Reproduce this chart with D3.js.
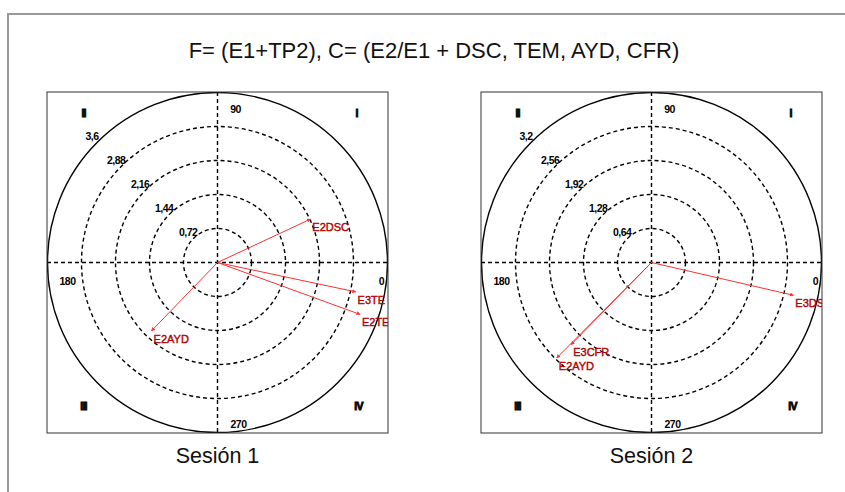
<!DOCTYPE html>
<html>
<head>
<meta charset="utf-8">
<script src="https://cdn.jsdelivr.net/npm/d3@7"></script>
<style>
  body { margin: 0; background: #fff; }
  svg { display: block; }
</style>
</head>
<body>
<svg id="chart"></svg>
<script>
const width = 845;
const height = 492;

const title = "F= (E1+TP2), C= (E2/E1 + DSC, TEM, AYD, CFR)";

// session 1
const s1Labels = ["E2DSC", "E3TE", "E2TE", "E2AYD"];
const s1Values = [2.17, 2.99, 3.21, 2.01];
const s1Angles = [25, 348, 340, 226];
const s1Ticks = [0.72, 1.44, 2.16, 2.88, 3.6];
const s1TickLabels = ["0,72", "1,44", "2,16", "2,88", "3,6"];

// session 2
const s2Labels = ["E3DS", "E3CFR", "E2AYD"];
const s2Values = [2.74, 2.16, 2.53];
const s2Angles = [347, 225.6, 225.2];
const s2Ticks = [0.64, 1.28, 1.92, 2.56, 3.2];
const s2TickLabels = ["0,64", "1,28", "1,92", "2,56", "3,2"];

const angleLabels = ["0", "90", "180", "270"];
const quadrantLabels = ["I", "II", "III", "IV"];

const panels = [
    {name: "Sesión 1", cx: 217.5, labels: s1Labels, values: s1Values, angles: s1Angles, ticks: s1Ticks, tickLabels: s1TickLabels},
    {name: "Sesión 2", cx: 651.5, labels: s2Labels, values: s2Values, angles: s2Angles, ticks: s2Ticks, tickLabels: s2TickLabels}
];

const cy = 262.5;
const half = 170.5;
const R = 170;
const red = "#ff3030";
const smallFont = "Arial, 'Liberation Sans', sans-serif";

const svg = d3.select("#chart")
    .attr("width", width)
    .attr("height", height)
    .style("font-family", "Arial, 'Liberation Sans', Helvetica, sans-serif");

// page frame
svg.append("path")
    .attr("d", "M8,492 V14 H845")
    .attr("fill", "none")
    .attr("stroke", "#9a9a9a")
    .attr("stroke-width", 2);

svg.append("text")
    .attr("x", 434)
    .attr("y", 58)
    .attr("text-anchor", "middle")
    .style("font-size", "22px")
    .attr("fill", "#111")
    .text(title);

const defs = svg.append("defs");
defs.append("marker")
    .attr("id", "head")
    .attr("viewBox", "0 -3 6 6")
    .attr("refX", 5)
    .attr("refY", 0)
    .attr("markerWidth", 4)
    .attr("markerHeight", 4)
    .attr("orient", "auto")
    .append("path")
    .attr("d", "M0,-3L6,0L0,3Z")
    .attr("fill", red);

panels.forEach((p, pi) => {
    const cx = p.cx;
    const r = d3.scaleLinear().domain([0, d3.max(p.ticks)]).range([0, R]);
    const rad = a => a * Math.PI / 180;
    const px = (v, a) => r(v) * Math.cos(rad(a));
    const py = (v, a) => -r(v) * Math.sin(rad(a));

    defs.append("clipPath")
        .attr("id", "clip" + pi)
        .append("rect")
        .attr("x", cx - half)
        .attr("y", cy - half)
        .attr("width", half * 2)
        .attr("height", half * 2);

    const g = svg.append("g").attr("clip-path", `url(#clip${pi})`);
    const c = g.append("g").attr("transform", `translate(${cx},${cy})`);

    // dashed rings
    c.selectAll("circle.ring")
        .data(p.ticks.slice(0, -1))
        .join("circle")
        .attr("class", "ring")
        .attr("r", d => r(d))
        .attr("fill", "none")
        .attr("stroke", "#000")
        .attr("stroke-width", 1.4)
        .attr("stroke-dasharray", "4,3");

    // outer ring
    c.append("circle")
        .attr("r", r(d3.max(p.ticks)))
        .attr("fill", "none")
        .attr("stroke", "#000")
        .attr("stroke-width", 1.4);

    // axes
    c.append("line")
        .attr("x1", -half).attr("x2", half)
        .attr("stroke", "#000").attr("stroke-width", 1.4)
        .attr("stroke-dasharray", "4,3");
    c.append("line")
        .attr("y1", -half).attr("y2", half)
        .attr("stroke", "#000").attr("stroke-width", 1.4)
        .attr("stroke-dasharray", "4,3");

    // ring labels along 135 deg
    c.selectAll("text.tick")
        .data(p.ticks)
        .join("text")
        .attr("class", "tick")
        .attr("x", d => (r(d) + 6) * Math.cos(rad(135)) - 1)
        .attr("y", d => -(r(d) + 6) * Math.sin(rad(135)) - 2)
        .attr("dy", "0.35em")
        .attr("text-anchor", "middle")
        .style("font-family", smallFont)
        .style("font-size", "10.5px")
        .style("font-weight", "bold")
        .style("letter-spacing", "-0.5px")
        .text((d, i) => p.tickLabels[i]);

    // angle labels
    const angPos = [[164, 19], [18, -153], [-150, 19], [21, 162]];
    c.selectAll("text.ang")
        .data(angleLabels)
        .join("text")
        .attr("class", "ang")
        .attr("x", (d, i) => angPos[i][0])
        .attr("y", (d, i) => angPos[i][1])
        .attr("dy", "0.35em")
        .attr("text-anchor", "middle")
        .style("font-family", smallFont)
        .style("font-size", "10.5px")
        .style("font-weight", "bold")
        .style("letter-spacing", "-0.5px")
        .text(d => d);

    const quadPos = [[139, -149], [-134, -149], [-134, 144], [141, 144]];
    c.selectAll("text.quad")
        .data(quadrantLabels)
        .join("text")
        .attr("class", "quad")
        .attr("x", (d, i) => quadPos[i][0])
        .attr("y", (d, i) => quadPos[i][1])
        .attr("dy", "0.35em")
        .attr("text-anchor", "middle")
        .style("font-family", smallFont)
        .style("font-size", "10.5px")
        .style("font-weight", "bold")
        .attr("stroke", "#000")
        .attr("stroke-width", 0.8)
        .style("letter-spacing", "-0.8px")
        .text(d => d);

    // vectors
    const vecs = p.labels.map((l, i) => ({label: l, v: p.values[i], a: p.angles[i]}));
    c.selectAll("line.vec")
        .data(vecs)
        .join("line")
        .attr("class", "vec")
        .attr("x1", 0).attr("y1", 0)
        .attr("x2", d => px(d.v, d.a))
        .attr("y2", d => py(d.v, d.a))
        .attr("stroke", red)
        .attr("stroke-width", 1)
        .attr("marker-end", "url(#head)");

    c.selectAll("text.vec")
        .data(vecs)
        .join("text")
        .attr("class", "vec")
        .attr("x", d => px(d.v, d.a) + 2)
        .attr("y", d => py(d.v, d.a) + 8)
        .attr("dy", "0.35em")
        .style("font-size", "11px")
        .attr("fill", "#e00000")
        .attr("stroke", "#900000")
        .attr("stroke-width", 0.4)
        .text(d => d.label);

    // panel border
    svg.append("rect")
        .attr("x", cx - half)
        .attr("y", cy - half)
        .attr("width", half * 2)
        .attr("height", half * 2)
        .attr("fill", "none")
        .attr("stroke", "#333")
        .attr("stroke-width", 1);

    svg.append("text")
        .attr("x", cx)
        .attr("y", 463)
        .attr("text-anchor", "middle")
        .style("font-size", "21.5px")
        .attr("fill", "#111")
        .text(p.name);
});
</script>
</body>
</html>
